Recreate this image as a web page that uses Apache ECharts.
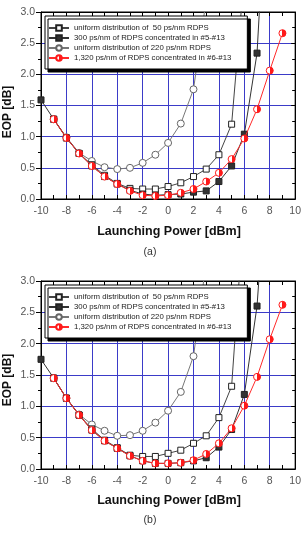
<!DOCTYPE html>
<html><head><meta charset="utf-8">
<script src="https://cdn.jsdelivr.net/npm/echarts@6/dist/echarts.min.js"></script>
<style>html,body{margin:0;padding:0;background:#fff}#c{width:304px;height:537px}</style>
</head><body><div id="c"></div>
<script>
// ---- data ----
const names = [
  'uniform distribution of  50 ps/nm RDPS',
  '300 ps/nm of RDPS concentrated in #5-#13',
  'uniform distribution of 220 ps/nm RDPS',
  '1,320 ps/nm of RDPS concentrated in #6-#13'
];
const xFilled = [-10,-9,-8,-7,-6,-5,-4,-3,-2,-1,0,1,2,3,4,5,6,7,8];
const xSquare = [-9,-8,-7,-6,-5,-4,-3,-2,-1,0,1,2,3,4,5,6];
const xCircle = [-9,-8,-7,-6,-5,-4,-3,-2,-1,0,1,2,3];
const xRed    = [-9,-8,-7,-6,-5,-4,-3,-2,-1,0,1,2,3,4,5,6,7,8,9];
// (a)
const aSquare = [1.28,0.98,0.73,0.55,0.38,0.25,0.17,0.16,0.16,0.20,0.26,0.36,0.48,0.71,1.20,3.6];
const aFilled = [1.59,1.28,0.98,0.73,0.53,0.36,0.24,0.14,0.08,0.06,0.07,0.08,0.11,0.13,0.28,0.53,1.04,2.34,6.0];
const aCircle = [1.28,0.99,0.74,0.61,0.51,0.48,0.50,0.58,0.71,0.90,1.21,1.76,3.2];
const aRed    = [1.28,0.98,0.73,0.53,0.36,0.24,0.13,0.06,0.05,0.06,0.10,0.16,0.28,0.42,0.64,0.97,1.44,2.06,2.66];
// (b)
const bSquare = [1.45,1.13,0.86,0.64,0.46,0.34,0.22,0.20,0.20,0.25,0.30,0.41,0.53,0.82,1.32,4.2];
const bFilled = [1.75,1.45,1.13,0.86,0.62,0.45,0.33,0.21,0.13,0.09,0.09,0.10,0.13,0.18,0.35,0.63,1.19,2.60,5.5];
const bCircle = [1.45,1.13,0.87,0.71,0.61,0.53,0.54,0.61,0.74,0.93,1.23,1.80,3.3];
const bRed    = [1.45,1.13,0.86,0.62,0.45,0.33,0.21,0.13,0.09,0.09,0.10,0.14,0.24,0.41,0.65,1.01,1.47,2.07,2.62];
const xTicks = [-10,-8,-6,-4,-2,0,2,4,6,8,10];
const yTicks = [0.0,0.5,1.0,1.5,2.0,2.5,3.0];

const pairs = (xs, ys) => xs.map((x, i) => [x, ys[i]]);
const FONT = 'Liberation Sans, Arial, sans-serif';
const GRID_BLUE = '#3b3bc8';

function xAx(gi, pos) {
  const bottom = pos === 'bottom';
  return {
    type: 'value', gridIndex: gi, position: pos, min: xTicks[0], max: xTicks[xTicks.length-1], interval: 2,
    axisLine: {show: true, onZero: false, lineStyle: {color: '#000', width: 1}},
    axisTick: {show: true, inside: true, length: 4, lineStyle: {color: '#000'}},
    minorTick: {show: true, splitNumber: 2, length: 4, lineStyle: {color: '#000'}},
    axisLabel: {show: bottom, color: '#555', fontSize: 10.5, fontFamily: FONT, margin: 7},
    splitLine: {show: bottom, lineStyle: {color: GRID_BLUE, width: 1}},
    minorSplitLine: {show: false}
  };
}
function yAx(gi, pos) {
  const left = pos === 'left';
  return {
    type: 'value', gridIndex: gi, position: pos, min: yTicks[0], max: yTicks[yTicks.length-1], interval: 0.5,
    axisLine: {show: true, onZero: false, lineStyle: {color: '#000', width: 1}},
    axisTick: {show: true, inside: !left, length: left ? 5 : 4, lineStyle: {color: '#000'}},
    minorTick: {show: true, splitNumber: 2, length: 3, lineStyle: {color: '#000'}},
    axisLabel: {show: left, color: '#555', fontSize: 10.5, fontFamily: FONT, margin: 6,
      formatter: v => v.toFixed(1)},
    splitLine: {show: left, lineStyle: {color: GRID_BLUE, width: 1}}
  };
}
const redFill = {type: 'linear', x: 0, y: 0, x2: 1, y2: 0, colorStops: [
  {offset: 0, color: '#fff'}, {offset: 0.5, color: '#fff'},
  {offset: 0.5, color: '#ff1a1a'}, {offset: 1, color: '#ff1a1a'}]};

function seriesFor(gi, sq, fi, ci, re) {
  return [
    {name: names[2], type: 'line', xAxisIndex: gi, yAxisIndex: gi, data: pairs(xCircle, ci),
     symbol: 'circle', symbolSize: 7, lineStyle: {color: '#777', width: 1},
     itemStyle: {color: '#fff', borderColor: '#666', borderWidth: 1}, z: 2},
    {name: names[0], type: 'line', xAxisIndex: gi, yAxisIndex: gi, data: pairs(xSquare, sq),
     symbol: 'rect', symbolSize: 6, lineStyle: {color: '#444', width: 1},
     itemStyle: {color: '#fff', borderColor: '#222', borderWidth: 1}, z: 3},
    {name: names[1], type: 'line', xAxisIndex: gi, yAxisIndex: gi, data: pairs(xFilled, fi),
     symbol: 'rect', symbolSize: 6, lineStyle: {color: '#333', width: 1},
     itemStyle: {color: '#333', borderColor: '#222', borderWidth: 1}, z: 4},
    {name: names[3], type: 'line', xAxisIndex: gi, yAxisIndex: gi, data: pairs(xRed, re),
     symbol: 'circle', symbolSize: 7, lineStyle: {color: '#ff2a2a', width: 1},
     itemStyle: {color: redFill, borderColor: '#ff1a1a', borderWidth: 1}, z: 5}
  ];
}
function legendFor(top) {
  return {
    orient: 'vertical', left: 45, top: top, data: names,
    itemWidth: 20, itemHeight: 7, itemGap: 2, padding: [8, 16, 7, 3],
    backgroundColor: '#fff', borderColor: '#000', borderWidth: 1,
    shadowColor: '#000', shadowBlur: 0, shadowOffsetX: 3, shadowOffsetY: 3,
    selectedMode: false,
    textStyle: {fontSize: 7.8, fontFamily: FONT, color: '#222', lineHeight: 8}
  };
}
const chart = echarts.init(document.getElementById('c'), null, {renderer: 'canvas'});
chart.setOption({
  animation: false,
  backgroundColor: '#fff',
  grid: [
    {left: 41, right: 8, top: 12, height: 187, show: true, borderColor: '#000', borderWidth: 1, backgroundColor: 'transparent'},
    {left: 41, right: 8, top: 281, height: 188, show: true, borderColor: '#000', borderWidth: 1, backgroundColor: 'transparent'}
  ],
  xAxis: [xAx(0, 'bottom'), xAx(1, 'bottom'), xAx(0, 'top'), xAx(1, 'top')],
  yAxis: [yAx(0, 'left'), yAx(1, 'left'), yAx(0, 'right'), yAx(1, 'right')],
  legend: [legendFor(16), legendFor(285)],
  series: [...seriesFor(0, aSquare, aFilled, aCircle, aRed), ...seriesFor(1, bSquare, bFilled, bCircle, bRed)],
  graphic: [
    {type: 'text', x: 8, y: 112, rotation: Math.PI/2, style: {text: 'EOP [dB]', font: 'bold 12px ' + FONT, fill: '#111', align: 'center', verticalAlign: 'middle'}},
    {type: 'text', x: 8, y: 380, rotation: Math.PI/2, style: {text: 'EOP [dB]', font: 'bold 12px ' + FONT, fill: '#111', align: 'center', verticalAlign: 'middle'}},
    {type: 'text', x: 169, y: 232, style: {text: 'Launching Power [dBm]', font: 'bold 12.5px ' + FONT, fill: '#111', align: 'center', verticalAlign: 'middle'}},
    {type: 'text', x: 169, y: 501, style: {text: 'Launching Power [dBm]', font: 'bold 12.5px ' + FONT, fill: '#111', align: 'center', verticalAlign: 'middle'}},
    {type: 'text', x: 150, y: 252, style: {text: '(a)', font: '10.5px ' + FONT, fill: '#333', align: 'center', verticalAlign: 'middle'}},
    {type: 'text', x: 150, y: 520, style: {text: '(b)', font: '10.5px ' + FONT, fill: '#333', align: 'center', verticalAlign: 'middle'}}
  ]
});
</script></body></html>
